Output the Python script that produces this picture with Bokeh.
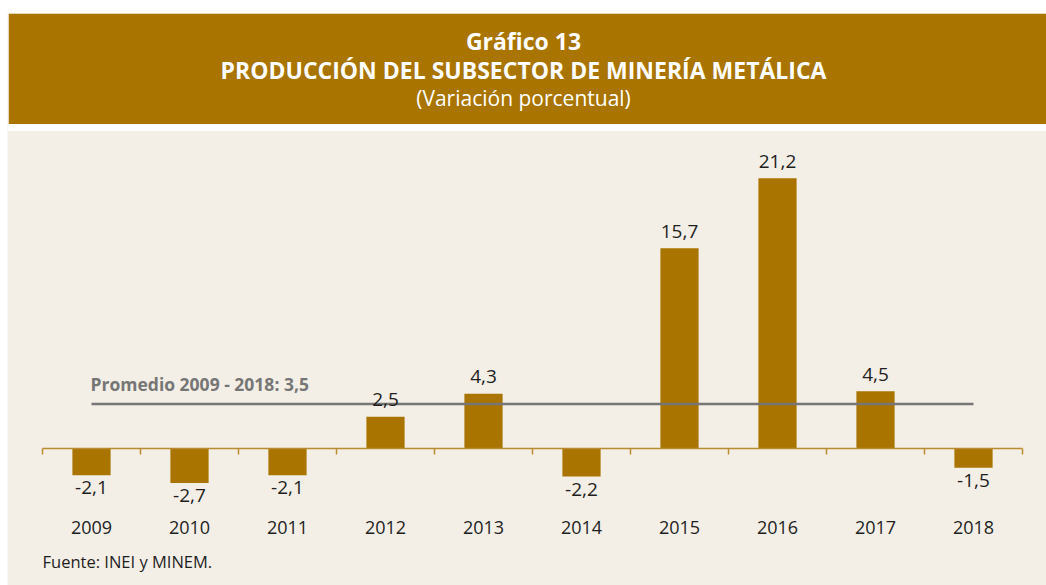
from bokeh.plotting import figure
from bokeh.models import Range1d, ColumnDataSource, BoxAnnotation
from bokeh.core.properties import value
from bokeh.embed import file_html
from bokeh.resources import INLINE

# ---- data ----
years = ["2009", "2010", "2011", "2012", "2013", "2014", "2015", "2016", "2017", "2018"]
values = [-2.1, -2.7, -2.1, 2.5, 4.3, -2.2, 15.7, 21.2, 4.5, -1.5]
average = 3.5
average_label = "Promedio 2009 - 2018: 3,5"
title_1 = "Gráfico 13"
title_2 = "PRODUCCIÓN DEL SUBSECTOR DE MINERÍA METÁLICA"
title_3 = "(Variación porcentual)"
source_note = "Fuente: INEI y MINEM."

GOLD = "#A97400"
AXIS_GOLD = "#BA8A30"
BEIGE = "#F4EFE6"
GREY = "#767676"
TEXT = "#1E1E1E"
FONT = "Open Sans"

# ---- geometry (pixels) ----
W, H = 1046, 585
FRAME_LEFT, FRAME_TOP = 7, 13
CAT_LEFT, CAT_RIGHT = 42, 1022          # page x of category band
ZERO_Y = 448                            # page y of the zero line
PX_PER_UNIT = 12.75                     # vertical pixels per percentage point
n = len(years)
px_per_cat = (CAT_RIGHT - CAT_LEFT) / n


def ydata(page_y):
    return (ZERO_Y - page_y) / PX_PER_UNIT


def xdata(page_x):
    return 0.5 + (page_x - CAT_LEFT) / px_per_cat


p = figure(width=W, height=H, output_backend="svg", toolbar_location=None,
           x_range=Range1d(xdata(FRAME_LEFT), xdata(W)),
           y_range=Range1d(ydata(H), ydata(FRAME_TOP)),
           x_axis_location=None, y_axis_location=None,
           min_border_top=FRAME_TOP, min_border_bottom=0,
           min_border_left=FRAME_LEFT, min_border_right=0)
p.background_fill_color = BEIGE
p.border_fill_color = "white"
p.outline_line_color = None
p.grid.visible = False

# banner and white gap
p.add_layout(BoxAnnotation(left=xdata(8), bottom=ydata(123.5), top=ydata(FRAME_TOP),
                           fill_color=GOLD, fill_alpha=1, line_color=None, level="underlay"))
p.add_layout(BoxAnnotation(bottom=ydata(130.5), top=ydata(123.5),
                           fill_color="white", fill_alpha=1, line_color=None, level="underlay"))
p.add_layout(BoxAnnotation(right=xdata(8), bottom=ydata(123.5), top=ydata(FRAME_TOP),
                           fill_color="white", fill_alpha=1, line_color=None, level="underlay"))

cx = xdata((8 + W) / 2 - 4)
p.text(x=[cx], y=[ydata(40)], text=[title_1], text_align="center", text_baseline="middle",
       text_font=value(FONT), text_font_style="bold", text_font_size="23px", text_color="white")
p.text(x=[cx], y=[ydata(69)], text=[title_2], text_align="center", text_baseline="middle",
       text_font=value(FONT), text_font_style="bold", text_font_size="23px", text_color="white")
p.text(x=[cx], y=[ydata(97)], text=[title_3], text_align="center", text_baseline="middle",
       text_font=value(FONT), text_font_size="21px", text_color="white")

# ---- bars ----
x_idx = list(range(1, n + 1))
fmt = lambda v: f"{v:.1f}".replace(".", ",")
src = ColumnDataSource(dict(x=x_idx, v=values, year=years, lbl=[fmt(v) for v in values]))
p.vbar(x="x", top="v", bottom=0, width=0.39, source=src, fill_color=GOLD, line_color=None)

# zero line + category-boundary ticks
p.segment(x0=[0.5], y0=[0], x1=[n + 0.5], y1=[0], line_color=AXIS_GOLD, line_width=1.5)
bounds = [i + 0.5 for i in range(0, n + 1)]
p.segment(x0=bounds, y0=[0] * len(bounds), x1=bounds, y1=[-6 / PX_PER_UNIT] * len(bounds),
          line_color=AXIS_GOLD, line_width=1.5)

# average line
p.line(x=[x_idx[0], x_idx[-1]], y=[average, average], line_color=GREY, line_width=2.5)
p.text(x=[x_idx[0] - 0.01], y=[average], text=[average_label], text_align="left",
       text_baseline="alphabetic", y_offset=-20, text_font=value(FONT), text_font_style="bold",
       text_font_size="17.5px", text_color=GREY)

# value labels
pos = ColumnDataSource(dict(x=[x for x, v in zip(x_idx, values) if v >= 0],
                            v=[v for v in values if v >= 0],
                            lbl=[fmt(v) for v in values if v >= 0]))
neg = ColumnDataSource(dict(x=[x for x, v in zip(x_idx, values) if v < 0],
                            v=[v for v in values if v < 0],
                            lbl=[fmt(v) for v in values if v < 0]))
p.text(x="x", y="v", text="lbl", source=pos, text_align="center", text_baseline="alphabetic",
       y_offset=-17, text_font=value(FONT), text_font_size="19px", text_color=TEXT)
p.text(x="x", y="v", text="lbl", source=neg, text_align="center", text_baseline="top",
       y_offset=6, text_font=value(FONT), text_font_size="19px", text_color=TEXT)

# year labels
p.text(x="x", y=ydata(527), text="year", source=src, text_align="center",
       text_baseline="middle", text_font=value(FONT), text_font_size="18px", text_color=TEXT)

# source note
p.text(x=[0.5], y=[ydata(561)], text=[source_note], text_align="left",
       text_baseline="middle", text_font=value(FONT), text_font_size="16.5px", text_color=TEXT)

open("out.html", "w").write(file_html(p, INLINE))
